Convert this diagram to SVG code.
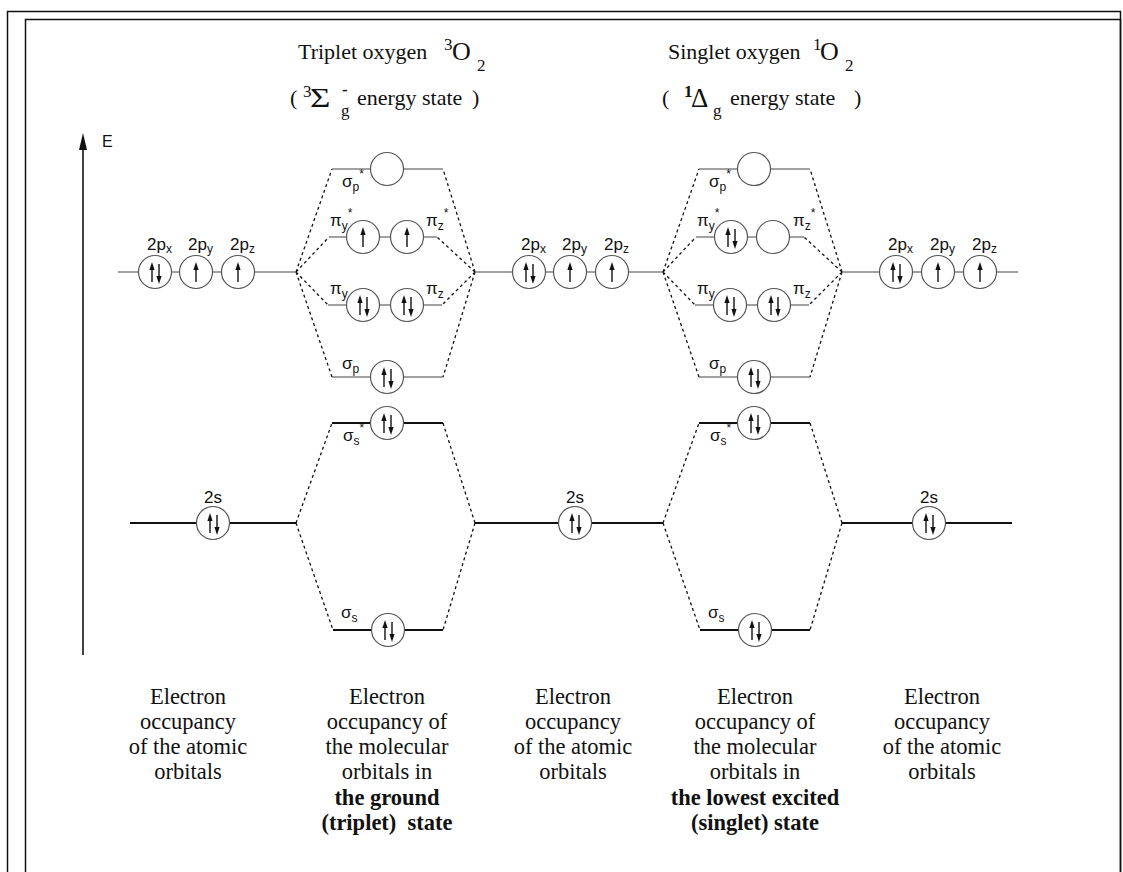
<svg xmlns="http://www.w3.org/2000/svg" xmlns:xlink="http://www.w3.org/1999/xlink" width="1123" height="872" viewBox="0 0 1123 872">
<style>
.frame{fill:none;stroke:#111;stroke-width:1.5}
.lvl{stroke:#444;stroke-width:1.2;fill:none}
.lvlb{stroke:#111;stroke-width:2;fill:none}
.orb{fill:#fff;stroke:#555;stroke-width:1.2}
.dash{stroke:#111;stroke-width:1.3;stroke-dasharray:3 3;fill:none}
.lab{font-family:"Liberation Sans",Arial,sans-serif;font-size:17px;fill:#111}
.ser{font-family:"Liberation Serif","Times New Roman",serif;font-size:22px;fill:#111}
.sm{font-size:17px}
.big{font-size:26px}
.greek{font-size:27px}
.cap{font-family:"Liberation Serif","Times New Roman",serif;font-size:22.5px;fill:#111;text-anchor:middle}
.bold{font-weight:bold}
</style>
<defs>
<g id="up"><line x1="0" y1="10" x2="0" y2="-3" stroke="#111" stroke-width="1.4"/><polygon points="0,-10 -2.6,-2 2.6,-2" fill="#111"/></g>
<g id="down"><line x1="0" y1="-8" x2="0" y2="5" stroke="#111" stroke-width="1.4"/><polygon points="0,12 -2.6,4 2.6,4" fill="#111"/></g>
<g id="pair"><use xlink:href="#up" x="-3"/><use xlink:href="#down" x="4"/></g>
</defs>
<rect x="0" y="0" width="1123" height="872" fill="#fff"/>
<rect class="frame" x="7.5" y="11.5" width="1113" height="900"/>
<rect class="frame" x="25.5" y="19.5" width="1095" height="900"/>

<g id="axis">
<line x1="83" y1="655" x2="83" y2="140" stroke="#111" stroke-width="1.6"/>
<polygon points="83,133 79,150 87,150" fill="#111"/>
<text x="102" y="147" style="font-family:'Liberation Sans',Arial,sans-serif;font-size:16px;fill:#111">E</text>
</g>

<g id="titles">
<text class="ser" x="298" y="59">Triplet oxygen</text>
<text class="ser sm" x="444" y="50">3</text>
<text class="ser big" x="452" y="60">O</text>
<text class="ser sm" x="477" y="71">2</text>
<text class="ser" x="290" y="105">(</text>
<text class="ser sm" x="303" y="97">3</text>
<text class="ser greek" transform="translate(310,107) scale(1.3,1)">Σ</text>
<text class="ser sm bold" x="342" y="95">-</text>
<text class="ser sm" x="341" y="116">g</text>
<text class="ser" x="357" y="105">energy state</text>
<text class="ser" x="472" y="105">)</text>
<text class="ser" x="668" y="59">Singlet oxygen</text>
<text class="ser sm" x="813" y="50">1</text>
<text class="ser big" x="820" y="60">O</text>
<text class="ser sm" x="845" y="71">2</text>
<text class="ser" x="662" y="105">(</text>
<text class="ser sm bold" x="684" y="97">1</text>
<text class="ser greek" x="691" y="107">Δ</text>
<text class="ser sm" x="713" y="116">g</text>
<text class="ser" x="730" y="105">energy state</text>
<text class="ser" x="854" y="105">)</text>
</g>

<g id="connectors">
<path class="dash" d="M296,272 L332,169 M296,272 L329,237 M296,272 L328,305 M296,272 L332,377 M475,272 L443,169 M475,272 L437,237 M475,272 L442,305 M475,272 L443,377"/>
<path class="dash" d="M296,523 L332,423 M296,523 L333,630 M475,523 L443,423 M475,523 L443,630"/>
<path class="dash" d="M663,272 L699,169 M663,272 L696,237 M663,272 L695,305 M663,272 L699,377 M842,272 L810,169 M842,272 L804,237 M842,272 L809,305 M842,272 L810,377"/>
<path class="dash" d="M663,523 L699,423 M663,523 L700,630 M842,523 L810,423 M842,523 L810,630"/>
</g>

<g id="atomic-2p-left">
<line class="lvl" x1="118" y1="272" x2="296" y2="272"/>
<circle class="orb" cx="155" cy="272" r="16.5"/><use xlink:href="#pair" x="155" y="272"/>
<circle class="orb" cx="196" cy="272" r="16.5"/><use xlink:href="#up" x="196" y="272"/>
<circle class="orb" cx="238" cy="272" r="16.5"/><use xlink:href="#up" x="238" y="272"/>
<text class="lab" x="147" y="250">2p<tspan font-size="12" dy="3">x</tspan></text>
<text class="lab" x="188" y="250">2p<tspan font-size="12" dy="3">y</tspan></text>
<text class="lab" x="230" y="250">2p<tspan font-size="12" dy="3">z</tspan></text>
</g>
<g id="atomic-2p-middle">
<line class="lvl" x1="475" y1="272" x2="663" y2="272"/>
<circle class="orb" cx="529" cy="272" r="16.5"/><use xlink:href="#pair" x="529" y="272"/>
<circle class="orb" cx="570" cy="272" r="16.5"/><use xlink:href="#up" x="570" y="272"/>
<circle class="orb" cx="612" cy="272" r="16.5"/><use xlink:href="#up" x="612" y="272"/>
<text class="lab" x="521" y="250">2p<tspan font-size="12" dy="3">x</tspan></text>
<text class="lab" x="562" y="250">2p<tspan font-size="12" dy="3">y</tspan></text>
<text class="lab" x="604" y="250">2p<tspan font-size="12" dy="3">z</tspan></text>
</g>
<g id="atomic-2p-right">
<line class="lvl" x1="842" y1="272" x2="1018" y2="272"/>
<circle class="orb" cx="896" cy="272" r="16.5"/><use xlink:href="#pair" x="896" y="272"/>
<circle class="orb" cx="938" cy="272" r="16.5"/><use xlink:href="#up" x="938" y="272"/>
<circle class="orb" cx="980" cy="272" r="16.5"/><use xlink:href="#up" x="980" y="272"/>
<text class="lab" x="888" y="250">2p<tspan font-size="12" dy="3">x</tspan></text>
<text class="lab" x="930" y="250">2p<tspan font-size="12" dy="3">y</tspan></text>
<text class="lab" x="972" y="250">2p<tspan font-size="12" dy="3">z</tspan></text>
</g>

<g id="atomic-2s-left">
<line class="lvlb" x1="130" y1="523" x2="296" y2="523"/>
<circle class="orb" cx="213" cy="523" r="16.5"/><use xlink:href="#pair" x="213" y="523"/>
<text class="lab" x="213" y="503" text-anchor="middle">2s</text>
</g>
<g id="atomic-2s-middle">
<line class="lvlb" x1="475" y1="523" x2="663" y2="523"/>
<circle class="orb" cx="575" cy="523" r="16.5"/><use xlink:href="#pair" x="575" y="523"/>
<text class="lab" x="575" y="503" text-anchor="middle">2s</text>
</g>
<g id="atomic-2s-right">
<line class="lvlb" x1="842" y1="523" x2="1012" y2="523"/>
<circle class="orb" cx="929" cy="523" r="16.5"/><use xlink:href="#pair" x="929" y="523"/>
<text class="lab" x="929" y="503" text-anchor="middle">2s</text>
</g>

<g id="t-sigma-p-star">
<line class="lvl" x1="332" y1="169" x2="443" y2="169"/>
<circle class="orb" cx="387" cy="169" r="16.5"/>
<text class="lab" x="342" y="187">σ<tspan font-size="12" dy="4">p</tspan><tspan font-size="12" dy="-13">*</tspan></text>
</g>
<g id="t-pi-star">
<line class="lvl" x1="329" y1="237" x2="437" y2="237"/>
<circle class="orb" cx="363" cy="237" r="16.5"/><use xlink:href="#up" x="363" y="237"/>
<circle class="orb" cx="407" cy="237" r="16.5"/><use xlink:href="#up" x="407" y="237"/>
<text class="lab" x="330" y="226">π<tspan font-size="12" dy="4">y</tspan><tspan font-size="12" dy="-13">*</tspan></text>
<text class="lab" x="426" y="226">π<tspan font-size="12" dy="4">z</tspan><tspan font-size="12" dy="-13">*</tspan></text>
</g>
<g id="t-pi">
<line class="lvl" x1="328" y1="305" x2="442" y2="305"/>
<circle class="orb" cx="363" cy="305" r="16.5"/><use xlink:href="#pair" x="363" y="305"/>
<circle class="orb" cx="407" cy="305" r="16.5"/><use xlink:href="#pair" x="407" y="305"/>
<text class="lab" x="330" y="294">π<tspan font-size="12" dy="4">y</tspan></text>
<text class="lab" x="426" y="294">π<tspan font-size="12" dy="4">z</tspan></text>
</g>
<g id="t-sigma-p">
<line class="lvl" x1="332" y1="377" x2="443" y2="377"/>
<circle class="orb" cx="387" cy="377" r="16.5"/><use xlink:href="#pair" x="387" y="377"/>
<text class="lab" x="342" y="369">σ<tspan font-size="12" dy="4">p</tspan></text>
</g>
<g id="t-sigma-s-star">
<line class="lvlb" x1="332" y1="423" x2="443" y2="423"/>
<circle class="orb" cx="387" cy="423" r="16.5"/><use xlink:href="#pair" x="387" y="423"/>
<text class="lab" x="343" y="441">σ<tspan font-size="12" dy="4">s</tspan><tspan font-size="12" dy="-13">*</tspan></text>
</g>
<g id="t-sigma-s">
<line class="lvlb" x1="333" y1="630" x2="443" y2="630"/>
<circle class="orb" cx="388" cy="630" r="16.5"/><use xlink:href="#pair" x="388" y="630"/>
<text class="lab" x="341" y="618">σ<tspan font-size="12" dy="4">s</tspan></text>
</g>

<g id="s-sigma-p-star">
<line class="lvl" x1="699" y1="169" x2="810" y2="169"/>
<circle class="orb" cx="754" cy="169" r="16.5"/>
<text class="lab" x="709" y="187">σ<tspan font-size="12" dy="4">p</tspan><tspan font-size="12" dy="-13">*</tspan></text>
</g>
<g id="s-pi-star">
<line class="lvl" x1="696" y1="237" x2="804" y2="237"/>
<circle class="orb" cx="731" cy="237" r="16.5"/><use xlink:href="#pair" x="731" y="237"/>
<circle class="orb" cx="773" cy="237" r="16.5"/>
<text class="lab" x="697" y="226">π<tspan font-size="12" dy="4">y</tspan><tspan font-size="12" dy="-13">*</tspan></text>
<text class="lab" x="793" y="226">π<tspan font-size="12" dy="4">z</tspan><tspan font-size="12" dy="-13">*</tspan></text>
</g>
<g id="s-pi">
<line class="lvl" x1="695" y1="305" x2="809" y2="305"/>
<circle class="orb" cx="730" cy="305" r="16.5"/><use xlink:href="#pair" x="730" y="305"/>
<circle class="orb" cx="774" cy="305" r="16.5"/><use xlink:href="#pair" x="774" y="305"/>
<text class="lab" x="697" y="294">π<tspan font-size="12" dy="4">y</tspan></text>
<text class="lab" x="793" y="294">π<tspan font-size="12" dy="4">z</tspan></text>
</g>
<g id="s-sigma-p">
<line class="lvl" x1="699" y1="377" x2="810" y2="377"/>
<circle class="orb" cx="754" cy="377" r="16.5"/><use xlink:href="#pair" x="754" y="377"/>
<text class="lab" x="709" y="369">σ<tspan font-size="12" dy="4">p</tspan></text>
</g>
<g id="s-sigma-s-star">
<line class="lvlb" x1="699" y1="423" x2="810" y2="423"/>
<circle class="orb" cx="754" cy="423" r="16.5"/><use xlink:href="#pair" x="754" y="423"/>
<text class="lab" x="710" y="441">σ<tspan font-size="12" dy="4">s</tspan><tspan font-size="12" dy="-13">*</tspan></text>
</g>
<g id="s-sigma-s">
<line class="lvlb" x1="700" y1="630" x2="810" y2="630"/>
<circle class="orb" cx="755" cy="630" r="16.5"/><use xlink:href="#pair" x="755" y="630"/>
<text class="lab" x="708" y="618">σ<tspan font-size="12" dy="4">s</tspan></text>
</g>

<g id="captions">
<text class="cap" x="188" y="704">Electron</text>
<text class="cap" x="188" y="729">occupancy</text>
<text class="cap" x="188" y="754">of the atomic</text>
<text class="cap" x="188" y="779">orbitals</text>

<text class="cap" x="387" y="704">Electron</text>
<text class="cap" x="387" y="729">occupancy of</text>
<text class="cap" x="387" y="754">the molecular</text>
<text class="cap" x="387" y="779">orbitals in</text>
<text class="cap bold" x="387" y="805">the ground</text>
<text class="cap bold" x="387" y="830" xml:space="preserve">(triplet)  state</text>

<text class="cap" x="573" y="704">Electron</text>
<text class="cap" x="573" y="729">occupancy</text>
<text class="cap" x="573" y="754">of the atomic</text>
<text class="cap" x="573" y="779">orbitals</text>

<text class="cap" x="755" y="704">Electron</text>
<text class="cap" x="755" y="729">occupancy of</text>
<text class="cap" x="755" y="754">the molecular</text>
<text class="cap" x="755" y="779">orbitals in</text>
<text class="cap bold" x="755" y="805">the lowest excited</text>
<text class="cap bold" x="755" y="830">(singlet) state</text>

<text class="cap" x="942" y="704">Electron</text>
<text class="cap" x="942" y="729">occupancy</text>
<text class="cap" x="942" y="754">of the atomic</text>
<text class="cap" x="942" y="779">orbitals</text>
</g>
</svg>
